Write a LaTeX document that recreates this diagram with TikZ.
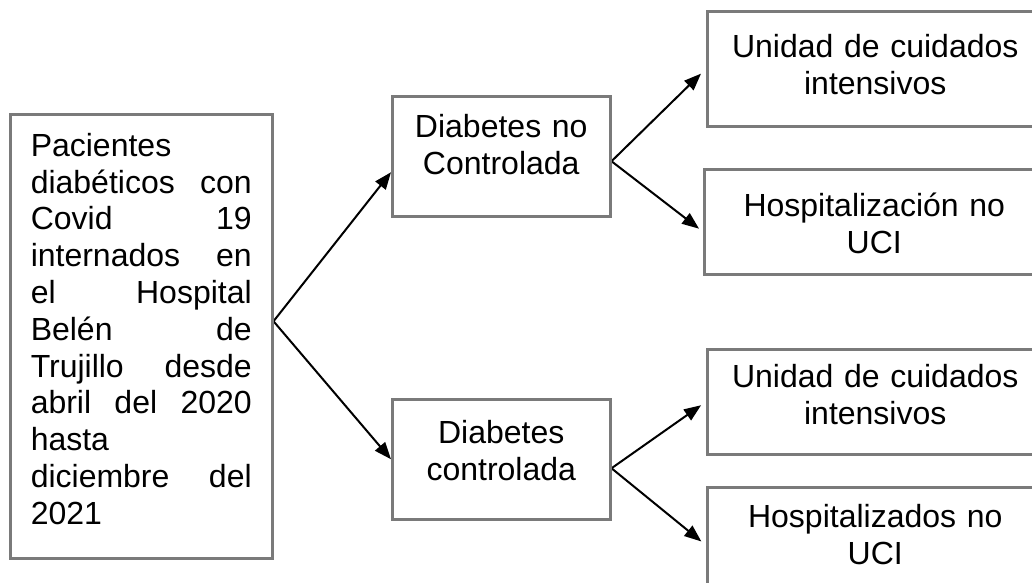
\documentclass[tikz,border=0pt]{standalone}
\usepackage{fontspec}
\setmainfont{Liberation Sans}
\usepackage{tikz}
\usetikzlibrary{arrows.meta}
\pgfdeclarelayer{edgelayer}
\pgfdeclarelayer{nodelayer}
\pgfsetlayers{edgelayer,nodelayer,main}
\tikzstyle{edge}=[draw=black, line width=2pt, -{Triangle[length=17pt,width=13pt]}]
\tikzstyle{box}=[rectangle, draw=black!52, line width=2.5pt, fill=white, inner ysep=0pt, anchor=north west, align=center]

\begin{document}
\begin{tikzpicture}[x=1pt, y=-1pt, font=\fontsize{32}{36.8}\selectfont]
				\useasboundingbox (0, 0) rectangle (1032, 582);
				\begin{pgfonlayer}{nodelayer}
					\node [style=box, align=left, text width=221pt, inner xsep=20.5pt, text height=42pt, text depth=402pt] (0) at (9, 113) {Pacientes\\ diabéticos\hfill con\\ Covid\hfill 19\\ internados\hfill en\\ el\hfill Hospital\\ Belén\hfill de\\ Trujillo\hfill desde\\ abril\hfill del\hfill 2020\\ hasta\\ diciembre\hfill del\\ 2021};
					\node [style=box, text width=190pt, inner xsep=14pt, text height=41pt, text depth=79pt] (1) at (391, 95) {Diabetes no\\ Controlada};
					\node [style=box, text width=190pt, inner xsep=14pt, text height=44pt, text depth=76pt] (2) at (391, 398) {Diabetes\\ controlada};
					\node [style=box, text width=300pt, inner xsep=18pt, text height=46pt, text depth=69pt] (3) at (706, 10) {Unidad de cuidados\\ intensivos};
					\node [style=box, text width=300pt, inner xsep=20pt, text height=47pt, text depth=58pt] (4) at (703, 168) {Hospitalización no\\ UCI};
					\node [style=box, text width=300pt, inner xsep=18pt, text height=38pt, text depth=67pt] (5) at (706, 348) {Unidad de cuidados\\ intensivos};
					\node [style=box, text width=300pt, inner xsep=18pt, text height=40pt, text depth=76pt] (6) at (706, 486) {Hospitalizados no\\ UCI};
				\end{pgfonlayer}
				\begin{pgfonlayer}{edgelayer}
					\draw [style=edge] ([yshift=15pt]0.east) to ([yshift=-16pt]1.west);
					\draw [style=edge] ([yshift=15pt]0.east) to (2.west);
					\draw [style=edge, shorten >=7pt] ([yshift=-5pt]1.east) to (3.west);
					\draw [style=edge, shorten >=5pt] ([yshift=-5pt]1.east) to ([yshift=-10pt]4.west);
					\draw [style=edge, shorten >=6pt] ([yshift=-9pt]2.east) to (5.west);
					\draw [style=edge, shorten >=6pt] ([yshift=-9pt]2.east) to (6.west);
				\end{pgfonlayer}
			\end{tikzpicture}
\end{document}
